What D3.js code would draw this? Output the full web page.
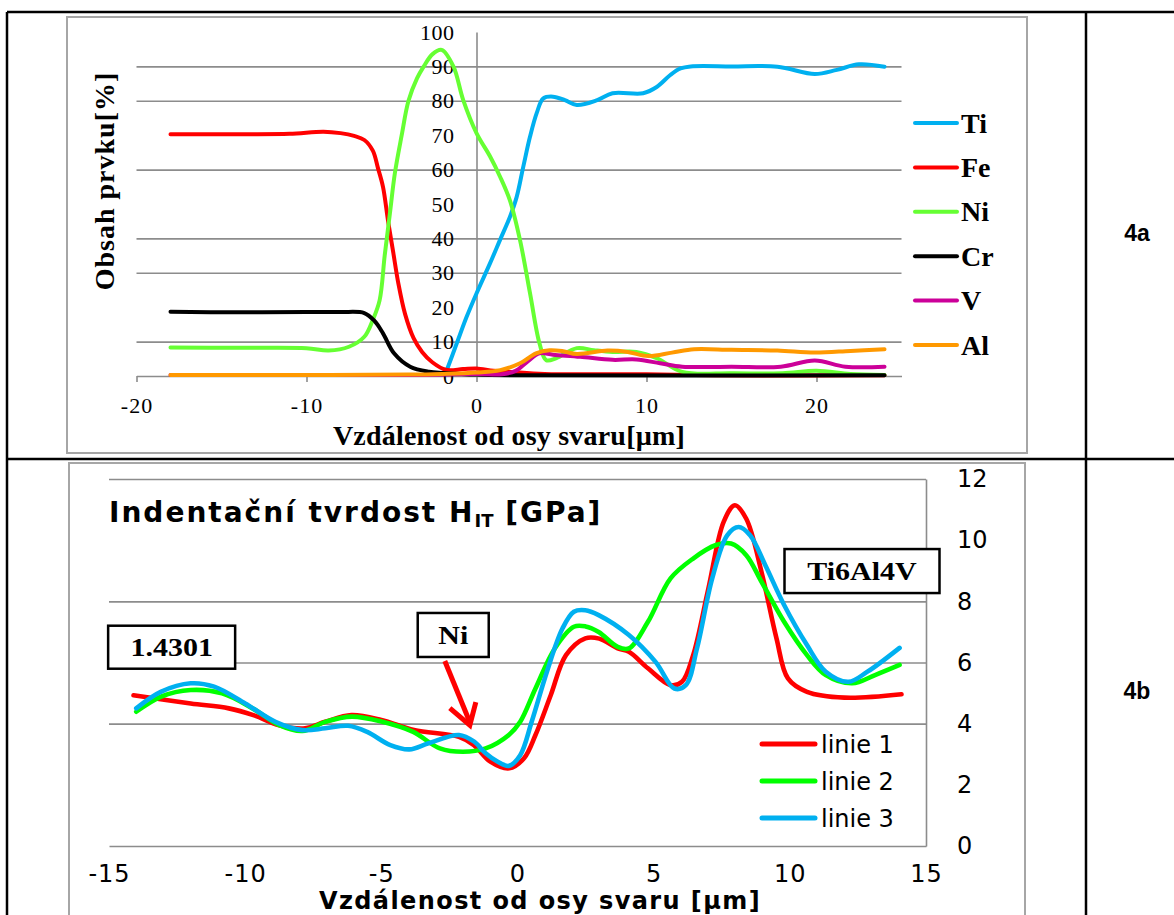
<!DOCTYPE html>
<html>
<head>
<meta charset="utf-8">
<script src="https://cdn.jsdelivr.net/npm/d3@7"></script>
<style>
  body { margin: 0; background: #fff; }
  svg { display: block; }
</style>
</head>
<body>
<svg id="chart" width="1174" height="915"></svg>
<script>
// ---- 4a: element content across the weld ----
const elements = ['Ti', 'Fe', 'Ni', 'Cr', 'V', 'Al'];
const elementColors = ['#00b0f0', '#ff0000', '#66ff33', '#000000', '#cc0099', '#ff9900'];
const tiData = [[-1.8, 1], [-1.16, 9.5], [-0.58, 17.2], [0, 24], [0.8, 32.8], [1.38, 39.5], [1.97, 46.3], [2.36, 52],
  [2.75, 60.8], [3.15, 69.6], [3.54, 76.4], [3.93, 80.7], [4.5, 81.2], [5.2, 80.2], [5.9, 78.8], [7.1, 80.2], [8, 82.2],
  [9.8, 82.2], [10.6, 84], [11.4, 87.5], [12, 89.4], [12.6, 90], [15, 90], [17.7, 89.9], [19.9, 87.8], [21.2, 89],
  [22.5, 90.6], [24, 89.9]];
const feData = [[-18, 70.3], [-14, 70.3], [-11, 70.4], [-9, 71], [-8, 70.6], [-7.2, 69.8], [-6.6, 68.6], [-6.1, 65.5],
  [-5.8, 60.5], [-5.5, 55], [-5.2, 45], [-4.9, 36], [-4.6, 27], [-4.2, 18], [-3.7, 11], [-3.2, 7], [-2.6, 4],
  [-1.8, 1.8], [-0.8, 2], [0, 2.2], [1, 1.5], [2, 1.2], [4, 0.6], [10, 0.5], [14, 0.2], [24, 0.2]];
const niData = [[-18, 8.3], [-14, 8.2], [-10, 8.1], [-8.7, 7.4], [-7.5, 8.5], [-6.6, 11.4], [-6.1, 16.3], [-5.7, 22],
  [-5.4, 35], [-5.1, 47], [-4.8, 59], [-4.4, 70], [-4.0, 80], [-3.5, 86.5], [-3.1, 90], [-2.6, 93.5], [-2.05, 94.8],
  [-1.36, 90], [-0.78, 80.2], [0, 70.6], [0.8, 63.8], [1.38, 58], [1.97, 51], [2.56, 39.5], [3.15, 24], [3.7, 9.6],
  [4.1, 4.6], [4.7, 5.2], [5.9, 8.1], [6.9, 7.5], [8, 7], [9.4, 7], [10.6, 5.2], [12.1, 1.2], [15, 0.8], [18, 0.8],
  [20, 1.5], [22, 0.6], [24, 0.3]];
const crData = [[-18, 18.7], [-14, 18.5], [-10, 18.6], [-8, 18.6], [-6.6, 18.3], [-6, 16], [-5.5, 12.4], [-4.85, 6.6],
  [-3.9, 2.7], [-2.8, 1.25], [-1.9, 0.9], [0, 0.4], [2, 0.2], [24, 0.2]];
const vData = [[-18, 0.3], [-10, 0.3], [-4, 0.3], [0, 0.6], [1.5, 0.5], [2.3, 1.5], [3, 4.2], [3.7, 6.6], [4.5, 6.2],
  [6.1, 5.6], [8, 4.7], [9.4, 4.8], [10.8, 3.7], [12.1, 2.7], [15, 2.7], [17.9, 2.7], [19.9, 4.5], [21.7, 2.7], [24, 2.7]];
const alData = [[-18, 0.3], [-10, 0.3], [-4, 0.4], [-2, 0.6], [0, 1], [1.4, 1.7], [2.56, 3.7], [3.5, 6.6], [4.3, 7.5],
  [5.1, 7.2], [5.9, 6.4], [7.7, 7.4], [8.9, 7], [10.1, 5.8], [11.5, 6.8], [12.8, 7.8], [15, 7.6], [17.7, 7.4],
  [19.9, 6.8], [22, 7.3], [24, 7.8]];
const xTicksA = [-20, -10, 0, 10, 20];
const yTicksA = [0, 10, 20, 30, 40, 50, 60, 70, 80, 90, 100];
const gridA = [10, 30, 40, 60, 80, 90];

// ---- 4b: indentation hardness ----
const lineNames = ['linie 1', 'linie 2', 'linie 3'];
const lineColors = ['#ff0000', '#00ff00', '#00b0f0'];
const linie1 = [[-14.1, 4.93], [-12, 4.66], [-10.6, 4.5], [-9.7, 4.28], [-8.75, 3.95], [-7.8, 3.85], [-7.06, 4.06],
  [-6.1, 4.28], [-5, 4.12], [-3.8, 3.79], [-2.15, 3.57], [-1.6, 3.3], [-1.0, 2.76], [-0.3, 2.54], [0.24, 2.87],
  [0.66, 3.63], [1.22, 4.93], [1.78, 6.24], [2.49, 6.79], [3.0, 6.78], [3.68, 6.46], [4.09, 6.35], [4.79, 5.81],
  [5.62, 5.26], [6.04, 5.37], [6.45, 6.24], [7.01, 8.42], [7.57, 10.6], [7.98, 11.14], [8.4, 10.7], [8.96, 8.96],
  [9.51, 6.79], [9.93, 5.48], [10.63, 5.04], [12, 4.85], [14.1, 4.96]];
const linie2 = [[-14, 4.39], [-13.1, 4.88], [-12, 5.1], [-10.85, 4.99], [-9.73, 4.5], [-8.75, 3.95], [-7.9, 3.76],
  [-7.06, 4.06], [-6.08, 4.23], [-4.96, 4.06], [-3.83, 3.73], [-2.85, 3.19], [-2, 3.08], [-1.17, 3.19], [-0.32, 3.63],
  [0.1, 4.06], [0.66, 5.15], [1.37, 6.46], [2.07, 7.17], [2.5, 7.18], [2.98, 7.0], [3.68, 6.51], [4.09, 6.46],
  [4.79, 7.33], [5.62, 8.75], [6.45, 9.4], [7.29, 9.84], [7.84, 9.89], [8.4, 9.51], [8.96, 8.64], [9.79, 7.33],
  [10.63, 6.24], [11.32, 5.59], [12.29, 5.32], [13.13, 5.59], [14.03, 5.92]];
const linie3 = [[-14, 4.5], [-13.1, 5.04], [-12, 5.32], [-11.14, 5.21], [-10, 4.66], [-8.89, 4.06], [-7.9, 3.79],
  [-7.06, 3.85], [-6.22, 3.93], [-5.52, 3.73], [-4.67, 3.3], [-3.97, 3.16], [-3.27, 3.36], [-2.15, 3.63], [-1.59, 3.41],
  [-1.17, 3.03], [-0.74, 2.76], [-0.32, 2.62], [0.1, 2.97], [0.52, 4.06], [1.08, 5.7], [1.65, 7.11], [2.07, 7.66],
  [2.49, 7.71], [2.98, 7.55], [4.09, 6.9], [5.07, 6.02], [5.76, 5.15], [6.18, 5.26], [6.59, 6.46], [7.15, 8.75],
  [7.7, 10.16], [8.12, 10.43], [8.54, 10.16], [9.1, 9.18], [9.79, 7.88], [10.63, 6.57], [11.32, 5.7], [12.15, 5.37],
  [12.85, 5.7], [14.03, 6.48]];
const xTicksB = [-15, -10, -5, 0, 5, 10, 15];
const yTicksB = [0, 2, 4, 6, 8, 10, 12];
const gridB = [4, 6, 8, 12];

const svg = d3.select('#chart');
svg.append('rect').attr('width', 1174).attr('height', 915).attr('fill', '#fff');

// table around the two figures
const table = svg.append('g').attr('stroke', '#000').attr('stroke-width', 2.5);
[[7, 12, 1174, 12], [7, 459, 1174, 459], [7, 12, 7, 915], [1086, 12, 1086, 915]].forEach(function(l) {
  table.append('line').attr('x1', l[0]).attr('y1', l[1]).attr('x2', l[2]).attr('y2', l[3]);
});
svg.append('text').attr('x', 1137).attr('y', 233).attr('dy', '0.35em').attr('text-anchor', 'middle')
  .style('font', 'bold 23px "Liberation Sans", Arial, sans-serif').text('4a');
svg.append('text').attr('x', 1137).attr('y', 691).attr('dy', '0.35em').attr('text-anchor', 'middle')
  .style('font', 'bold 23px "Liberation Sans", Arial, sans-serif').text('4b');

// ================= chart 4a =================
const serif = '"Liberation Serif", "Times New Roman", serif';
const gA = svg.append('g');
gA.append('rect').attr('x', 67).attr('y', 17).attr('width', 960).attr('height', 436)
  .attr('fill', 'none').attr('stroke', '#a6a6a6').attr('stroke-width', 2);

const xA = d3.scaleLinear().domain([-20, 25]).range([136.5, 901.5]);
const yA = d3.scaleLinear().domain([0, 100]).range([376, 32]);

gA.append('g')
  .attr('transform', `translate(${xA(-20)},0)`)
  .call(d3.axisLeft(yA).tickValues(gridA).tickSize(-(xA(25) - xA(-20))).tickFormat(''))
  .call((g) => g.select('.domain').remove())
  .selectAll('line').attr('stroke', '#8c8c8c').attr('stroke-width', 1.6);

const xAxisA = gA.append('g')
  .attr('transform', `translate(0,${yA(0)})`)
  .call(d3.axisBottom(xA).tickValues(xTicksA).tickSize(6).tickSizeOuter(0).tickPadding(15).tickFormat((d) => String(d)));
xAxisA.select('.domain').attr('stroke', '#8c8c8c').attr('stroke-width', 1.6);
xAxisA.selectAll('line').attr('stroke', '#8c8c8c').attr('stroke-width', 1.6);
xAxisA.selectAll('text').attr('fill', '#000').style('font', `22px ${serif}`).style('letter-spacing', '1px');

const yAxisA = gA.append('g')
  .attr('transform', `translate(${xA(0)},0)`)
  .call(d3.axisLeft(yA).tickValues(yTicksA).tickSize(0).tickPadding(22));
yAxisA.select('.domain').attr('stroke', '#8c8c8c').attr('stroke-width', 1.6);
yAxisA.selectAll('text').attr('fill', '#000').style('font', `22px ${serif}`).style('letter-spacing', '0.5px');

const lineA = d3.line().x((d) => xA(d[0])).y((d) => yA(d[1])).curve(d3.curveCatmullRom.alpha(0.5));
const seriesA = [tiData, feData, niData, crData, vData, alData];
gA.append('g').selectAll('path').data(seriesA).enter().append('path')
  .attr('d', lineA)
  .attr('fill', 'none')
  .attr('stroke', (d, i) => elementColors[i])
  .attr('stroke-width', 4)
  .attr('stroke-linecap', 'round')
  .attr('stroke-linejoin', 'round');

// legend
const legA = gA.append('g').selectAll('g').data(elements).enter().append('g')
  .attr('transform', (d, i) => `translate(915,${123 + i * 44.4})`);
legA.append('line').attr('x1', 0).attr('x2', 42)
  .attr('stroke', (d, i) => elementColors[i]).attr('stroke-width', 4).attr('stroke-linecap', 'round');
legA.append('text').attr('x', 46).attr('dy', '0.34em').text((d) => d)
  .style('font', `bold 28px ${serif}`);

gA.append('text').attr('x', 509).attr('y', 445).attr('text-anchor', 'middle')
  .style('font', `bold 28px ${serif}`).style('letter-spacing', '0.2px').text('Vzdálenost od osy svaru[µm]');
gA.append('text').attr('transform', 'translate(114,181) rotate(-90)').attr('text-anchor', 'middle')
  .style('font', `bold 28px ${serif}`).style('letter-spacing', '1px').text('Obsah prvku[%]');

// ================= chart 4b =================
const sans = '"DejaVu Sans", Verdana, sans-serif';
const gB = svg.append('g');
gB.append('rect').attr('x', 69).attr('y', 463).attr('width', 956).attr('height', 480)
  .attr('fill', 'none').attr('stroke', '#a6a6a6').attr('stroke-width', 2);

const xB = d3.scaleLinear().domain([-15, 15]).range([109, 926]);
const yB = d3.scaleLinear().domain([0, 12]).range([846, 479]);

gB.append('g')
  .attr('transform', `translate(${xB(-15)},0)`)
  .call(d3.axisLeft(yB).tickValues(gridB).tickSize(-(xB(15) - xB(-15))).tickFormat(''))
  .call((g) => g.select('.domain').remove())
  .selectAll('line').attr('stroke', '#8c8c8c').attr('stroke-width', 1.6);

const xAxisB = gB.append('g')
  .attr('transform', `translate(0,${yB(0)})`)
  .call(d3.axisBottom(xB).tickValues(xTicksB).tickSize(0).tickPadding(19).tickFormat((d) => String(d)));
xAxisB.select('.domain').attr('stroke', '#8c8c8c').attr('stroke-width', 1.6);
xAxisB.selectAll('text').attr('fill', '#000').style('font', `24px ${sans}`).style('letter-spacing', '1px');

const yAxisB = gB.append('g')
  .attr('transform', `translate(${xB(15)},0)`)
  .call(d3.axisRight(yB).tickValues(yTicksB).tickSize(0).tickPadding(31));
yAxisB.select('.domain').attr('stroke', '#8c8c8c').attr('stroke-width', 1.6);
yAxisB.selectAll('text').attr('fill', '#000').style('font', `24px ${sans}`);

const lineB = d3.line().x((d) => xB(d[0])).y((d) => yB(d[1])).curve(d3.curveCatmullRom.alpha(0.5));
gB.append('g').selectAll('path').data([linie1, linie2, linie3]).enter().append('path')
  .attr('d', lineB)
  .attr('fill', 'none')
  .attr('stroke', (d, i) => lineColors[i])
  .attr('stroke-width', 4.6)
  .attr('stroke-linecap', 'round')
  .attr('stroke-linejoin', 'round');

// legend
const legB = gB.append('g').selectAll('g').data(lineNames).enter().append('g')
  .attr('transform', (d, i) => `translate(762,${744 + i * 37})`);
legB.append('line').attr('x1', 0).attr('x2', 53)
  .attr('stroke', (d, i) => lineColors[i]).attr('stroke-width', 5).attr('stroke-linecap', 'round');
legB.append('text').attr('x', 59).attr('dy', '0.36em').text((d) => d)
  .style('font', `24px ${sans}`);

// title with subscript
const title = gB.append('text').attr('x', 109).attr('y', 522)
  .style('font', `bold 28px ${sans}`).style('letter-spacing', '2px');
title.append('tspan').text('Indentační tvrdost H');
title.append('tspan').attr('dy', 5).style('font-size', '18px').style('letter-spacing', '0px').text('IT');
title.append('tspan').attr('dy', -5).text(' [GPa]');

gB.append('text').attr('x', 540).attr('y', 909).attr('text-anchor', 'middle')
  .style('font', `bold 24px ${sans}`).style('letter-spacing', '1.4px')
  .text('Vzdálenost od osy svaru [µm]');

// boxed labels
const boxes = [
  {label: '1.4301', cx: xB(-12.7), cy: yB(6.5), w: 127, h: 43},
  {label: 'Ni', cx: xB(-2.36), cy: yB(6.9), w: 71, h: 44},
  {label: 'Ti6Al4V', cx: xB(12.65), cy: yB(8.99), w: 155, h: 44}
];
const boxG = gB.append('g').selectAll('g').data(boxes).enter().append('g')
  .attr('transform', (d) => `translate(${d.cx},${d.cy})`);
boxG.append('rect')
  .attr('x', (d) => -d.w / 2).attr('y', (d) => -d.h / 2)
  .attr('width', (d) => d.w).attr('height', (d) => d.h)
  .attr('fill', '#fff').attr('stroke', '#000').attr('stroke-width', 2.5);
boxG.append('text').attr('transform', 'scale(1.2,1)').attr('text-anchor', 'middle').attr('dy', '0.35em')
  .style('font', `bold 25px ${serif}`).text((d) => d.label);

// red arrow towards the Ni dip
const arrowFrom = [xB(-2.67), yB(6.05)];
const arrowTo = [xB(-1.75), yB(3.95)];
gB.append('line')
  .attr('x1', arrowFrom[0]).attr('y1', arrowFrom[1]).attr('x2', arrowTo[0]).attr('y2', arrowTo[1] - 3)
  .attr('stroke', '#ff0000').attr('stroke-width', 5);
gB.append('polyline')
  .attr('points', `${arrowTo[0] - 20},${arrowTo[1] - 17} ${arrowTo[0]},${arrowTo[1]} ${arrowTo[0] + 6},${arrowTo[1] - 23}`)
  .attr('fill', 'none').attr('stroke', '#ff0000').attr('stroke-width', 5).attr('stroke-linejoin', 'miter');
</script>
</body>
</html>
